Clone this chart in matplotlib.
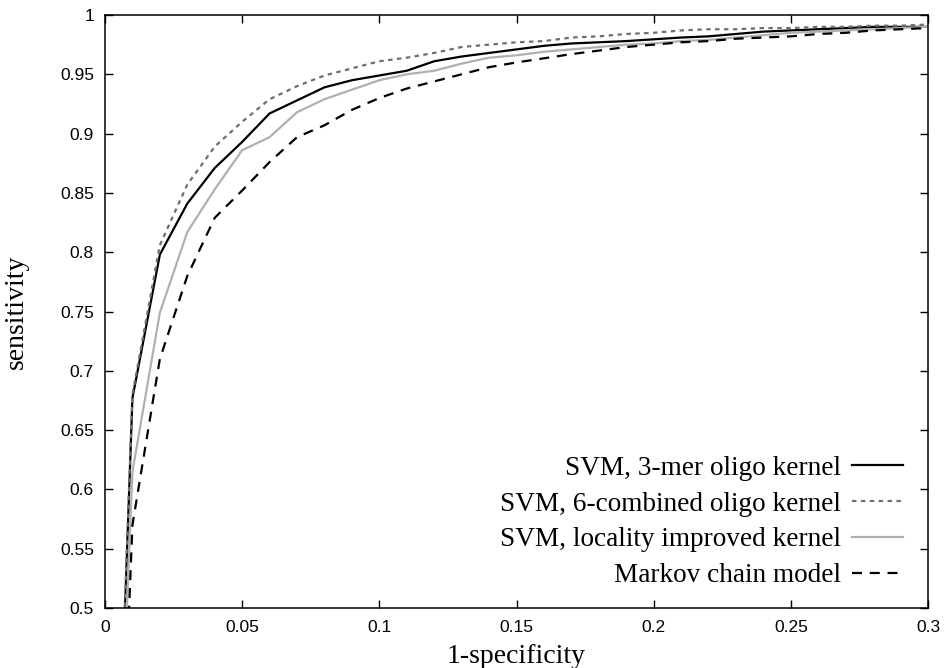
import matplotlib
matplotlib.use("Agg")
import matplotlib.pyplot as plt

# 1-specificity values
fpr = [0.005, 0.01, 0.02, 0.03, 0.04, 0.05, 0.06, 0.07, 0.08, 0.09, 0.10,
       0.11, 0.12, 0.13, 0.14, 0.15, 0.16, 0.17, 0.18, 0.19, 0.20, 0.21,
       0.22, 0.23, 0.24, 0.25, 0.26, 0.27, 0.28, 0.29, 0.30]

sens_3mer = [0.35, 0.677, 0.798, 0.841, 0.871, 0.893, 0.917, 0.928, 0.939, 0.945, 0.949,
             0.953, 0.961, 0.965, 0.968, 0.971, 0.974, 0.976, 0.977, 0.978, 0.9795, 0.981,
             0.982, 0.984, 0.986, 0.987, 0.988, 0.989, 0.990, 0.990, 0.990]
sens_6comb = [0.36, 0.68, 0.806, 0.857, 0.889, 0.910, 0.929, 0.940, 0.949, 0.955, 0.961,
              0.964, 0.968, 0.973, 0.975, 0.977, 0.978, 0.981, 0.982, 0.984, 0.985, 0.987,
              0.988, 0.988, 0.989, 0.989, 0.990, 0.990, 0.991, 0.991, 0.992]
sens_loc = [0.33, 0.615, 0.749, 0.817, 0.853, 0.886, 0.897, 0.918, 0.929, 0.937, 0.945,
            0.950, 0.953, 0.959, 0.964, 0.966, 0.969, 0.971, 0.973, 0.975, 0.976, 0.978,
            0.979, 0.981, 0.983, 0.985, 0.986, 0.987, 0.988, 0.989, 0.990]
sens_markov = [0.28, 0.57, 0.71, 0.78, 0.829, 0.852, 0.876, 0.897, 0.907, 0.920, 0.930,
               0.938, 0.944, 0.950, 0.956, 0.960, 0.9635, 0.967, 0.970, 0.973, 0.975, 0.977,
               0.978, 0.980, 0.981, 0.982, 0.984, 0.985, 0.987, 0.988, 0.989]

labels = ["SVM, 3-mer oligo kernel", "SVM, 6-combined oligo kernel",
          "SVM, locality improved kernel", "Markov chain model"]

xticks = [0, 0.05, 0.1, 0.15, 0.2, 0.25, 0.3]
xticklabels = ["0", "0.05", "0.1", "0.15", "0.2", "0.25", "0.3"]
yticks = [0.5, 0.55, 0.6, 0.65, 0.7, 0.75, 0.8, 0.85, 0.9, 0.95, 1.0]
yticklabels = ["0.5", "0.55", "0.6", "0.65", "0.7", "0.75", "0.8", "0.85", "0.9", "0.95", "1"]

fig = plt.figure(figsize=(9.44, 6.68), dpi=100)
ax = fig.add_axes([105/944, 1-608/668, 823/944, 593/668])

ax.plot(fpr, sens_3mer, color="black", lw=1.6, label=labels[0])
ax.plot(fpr, sens_6comb, color="#6e6e6e", lw=1.6, dashes=(2, 2), label=labels[1])
ax.plot(fpr, sens_loc, color="#b0b0b0", lw=1.6, label=labels[2])
ax.plot(fpr, sens_markov, color="black", lw=1.6, dashes=(4.5, 3.5), label=labels[3])

ax.set_xlim(0, 0.3)
ax.set_ylim(0.5, 1.0)
ax.set_xticks(xticks)
ax.set_xticklabels(xticklabels)
ax.set_yticks(yticks)
ax.set_yticklabels(yticklabels)
ax.tick_params(direction="in", length=6, width=1, top=True, right=True,
               labelsize=12.5)
ax.tick_params(axis="x", pad=9)
ax.tick_params(axis="y", pad=8)
for t in ax.get_xticklabels() + ax.get_yticklabels():
    t.set_family("Liberation Sans")
for s in ax.spines.values():
    s.set_linewidth(1.1)

ax.set_xlabel("1-specificity", family="Liberation Serif", fontsize=20, labelpad=6)
ax.set_ylabel("sensitivity", family="Liberation Serif", fontsize=20, labelpad=22)

leg = ax.legend(loc="lower right", bbox_to_anchor=(0.993, 0.0), frameon=False,
                markerfirst=False,
                prop={"family": "Liberation Serif", "size": 19.6},
                handlelength=1.85, handletextpad=0.4, labelspacing=0.4,
                borderaxespad=0.32)

fig.savefig("out.png", dpi=100)
